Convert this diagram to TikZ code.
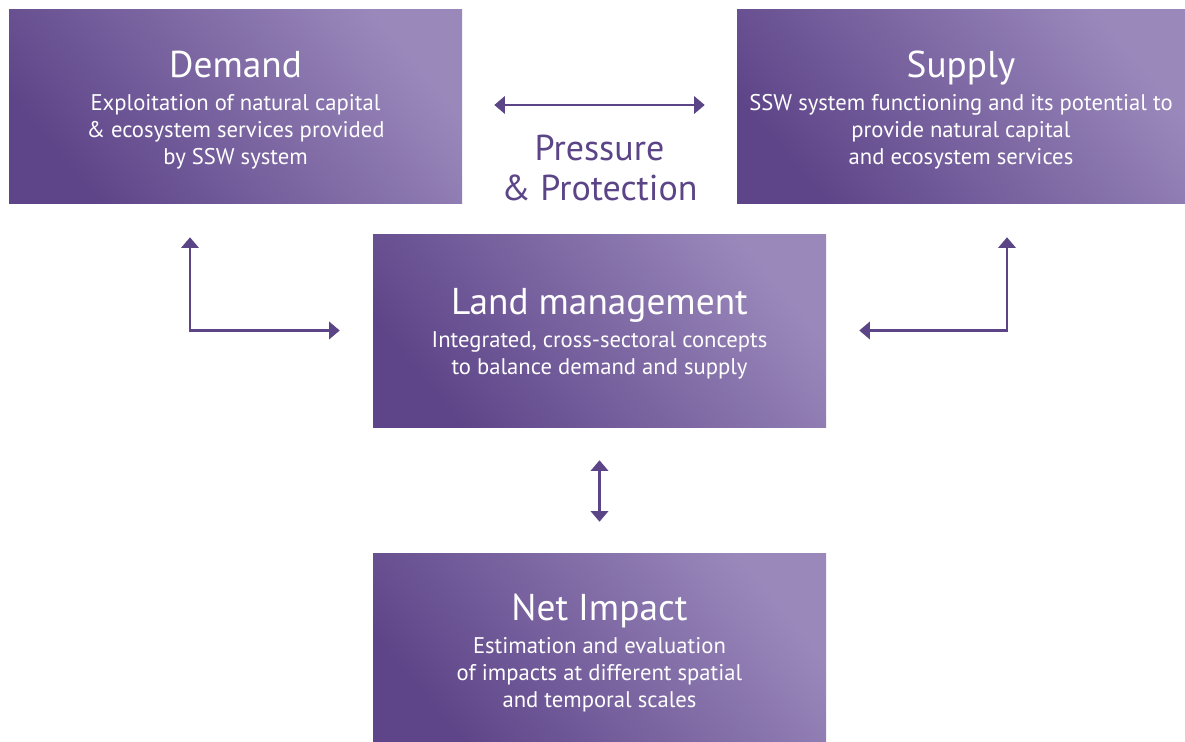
\documentclass[tikz,border=0pt]{standalone}
\usepackage{fontspec}
\setmainfont{PT Sans}
\usetikzlibrary{arrows.meta,positioning}

\definecolor{plum}{HTML}{5B4587}
\definecolor{plumdark}{HTML}{5E4589}
\definecolor{plumlight}{HTML}{9A88BB}

\tikzset{
  panel/.style={rectangle, inner sep=0pt, minimum width=453*0.75pt, minimum height=193*0.75pt,
    top color=plumlight, bottom color=plumdark, shading angle=-50},
  paneltext/.style={text=white, align=center, inner sep=0pt, font=\fontsize{17}{20}\selectfont},
  link/.style={draw=plum, line width=2.2pt, {Triangle[length=8pt,width=13pt]}-{Triangle[length=8pt,width=13pt]}},
}
\newcommand{\paneltitle}[1]{{\fontsize{28}{30}\selectfont #1}\\[5pt]}

\begin{document}
\begin{tikzpicture}[x=0.75pt,y=-0.75pt]
  \useasboundingbox (0,0) rectangle (1185,742);

  % boxes
  \node[panel] (demand) at (235.5,106.5) {};
  \node[panel, minimum width=448*0.75pt] (supply) at (961,106.5) {};
  \node[panel] (land) at (599.5,330.5) {};
  \node[panel, minimum height=189*0.75pt] (net) at (599.5,647.5) {};

  % texts
  \node[paneltext] (demandtxt) at ([yshift=-2.5pt]demand.center) {\paneltitle{Demand}Exploitation of natural capital\\ \& ecosystem services provided\\ by SSW system};
  \node[paneltext] (supplytxt) at ([yshift=-2.5pt]supply.center) {\paneltitle{Supply}SSW system functioning and its potential to\\ provide natural capital\\ and ecosystem services};
  \node[paneltext] (landtxt) at ([yshift=-2.5pt]land.center) {\paneltitle{Land management}Integrated, cross-sectoral concepts\\ to balance demand and supply};
  \node[paneltext] (nettxt) at ([yshift=-4pt]net.center) {\paneltitle{Net Impact}Estimation and evaluation\\ of impacts at different spatial\\ and temporal scales};

  \node[text=plum, align=center, font=\fontsize{27}{30}\selectfont] (pp) at (599.5,168) {Pressure\\ \& Protection};

  % arrows
  \coordinate (dcorner) at (190,330);
  \coordinate (scorner) at (1007,330);
  \draw[link, shorten <=32*0.75pt, shorten >=32*0.75pt] (demand.east |- 0,105) -- (supply.west |- 0,105);
  \draw[link, shorten <=33*0.75pt, shorten >=34*0.75pt] (land.west) -| (demand.south -| dcorner);
  \draw[link, shorten <=33*0.75pt, shorten >=34*0.75pt] (land.east) -| (supply.south -| scorner);
  \draw[link, shorten <=33*0.75pt, shorten >=31*0.75pt] (land.south) -- (net.north);
\end{tikzpicture}
\end{document}
